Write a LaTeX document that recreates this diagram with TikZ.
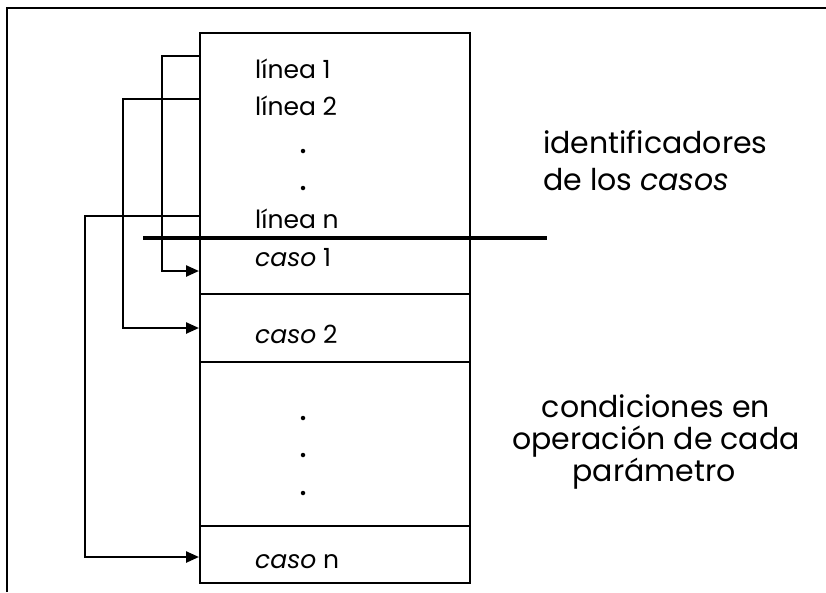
\documentclass[tikz,border=0pt]{standalone}
\usepackage{fontspec}
\setmainfont{Poppins}
\usetikzlibrary{arrows.meta}
\begin{document}
\begin{tikzpicture}[x=1pt,y=-1pt,
  frameline/.style={line width=2.8pt},
  section/.style={draw,line width=2.4pt,anchor=north west,inner sep=0pt,
                  minimum width=270pt},
  conn/.style={line width=2.4pt,-{Triangle[length=13pt,width=11pt]}},
  txt/.style={anchor=base west,inner sep=0pt,font=\fontsize{25}{28}\selectfont},
  side/.style={inner sep=0pt,font=\fontsize{30}{33}\selectfont},
  dotmark/.style={circle,fill,inner sep=0pt,minimum size=4.5pt}]
\useasboundingbox (0,0) rectangle (826,592);

% open frame: top and left edges
\coordinate (fbl) at (7,592);
\coordinate (ftl) at (7,8);
\coordinate (ftr) at (826,8);
\draw[frameline] (fbl) -- (ftl) -- (ftr);

% the record: identifiers block followed by the case blocks
\node[section,minimum height=206pt] (ids)   at (199,32)  {};
\node[section,minimum height=55pt]  (c1)    at (199,238) {};
\node[section,minimum height=68pt]  (c2)    at (199,293) {};
\node[section,minimum height=164pt] (cdots) at (199,361) {};
\node[section,minimum height=57pt]  (cn)    at (199,525) {};

% boundary between identifiers and cases
\coordinate (sepL) at (143,238);
\coordinate (sepR) at (547,238);
\draw[line width=3.6pt] (sepL) -- (sepR);

% texts inside the record
\node[txt] (t1) at (255,78)  {línea 1};
\node[txt] (t2) at (255,115) {línea 2};
\node[dotmark] (d1) at (303,151) {};
\node[dotmark] (d2) at (303,188) {};
\node[txt] (tn) at (255,228) {línea n};
\node[txt] (k1) at (255,266) {\textit{caso} 1};
\node[txt] (k2) at (255,343) {\textit{caso} 2};
\node[dotmark] (e1) at (303,418) {};
\node[dotmark] (e2) at (303,455) {};
\node[dotmark] (e3) at (303,493) {};
\node[txt] (kn) at (255,568) {\textit{caso} n};

% side notes
\node[side,anchor=base west] (n1) at (543,153) {identificadores};
\node[side,anchor=base west] (n2) at (543,190) {de los \textit{casos}};
\node[side,anchor=base] (m1) at (656,417) {condiciones en};
\node[side,anchor=base] (m2) at (656,449) {operación de cada};
\node[side,anchor=base] (m3) at (654,481) {parámetro};

% pointers from each line to its case
\coordinate (p1) at (ids.west |- 0,56);
\coordinate (p2) at (ids.west |- 0,99);
\coordinate (pn) at (ids.west |- 0,216);
\coordinate (a1) at (c1.west |- 0,271);
\coordinate (a2) at (c2.west |- 0,328);
\coordinate (an) at (cn.west |- 0,557);
\draw[conn] (p1) -- ++(-37,0) |- (a1);
\draw[conn] (p2) -- ++(-76,0) |- (a2);
\draw[conn] (pn) -- ++(-114,0) |- (an);
\end{tikzpicture}
\end{document}
